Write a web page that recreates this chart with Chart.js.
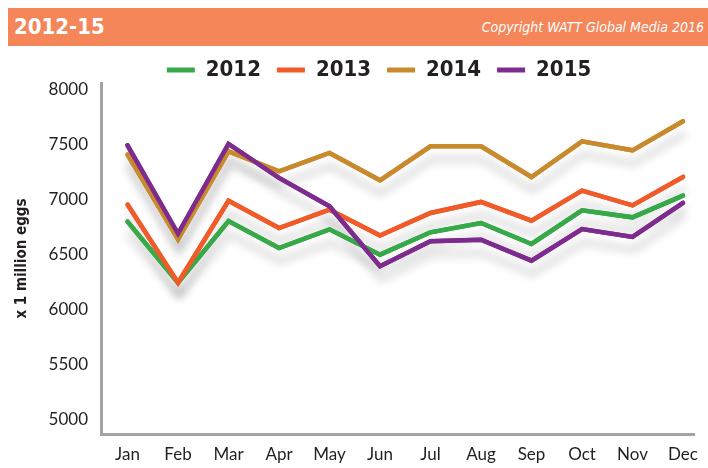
<!DOCTYPE html>
<html><head><meta charset="utf-8">
<script src="https://cdn.jsdelivr.net/npm/chart.js@4"></script>
<style>
html,body{margin:0;padding:0;background:#fff;width:708px;height:468px;overflow:hidden}
#wrap{position:relative;width:708px;height:468px}
#hdr{position:absolute;left:8px;top:8px;width:700px;height:38px;background:#F4865A}
#ttl{position:absolute;left:6px;top:6px;display:block;line-height:26px;font:bold 22px "DejaVu Sans Condensed","DejaVu Sans",sans-serif;color:#fff}
#copy{position:absolute;right:4px;top:11px;display:block;line-height:18px;font:italic 14px "DejaVu Sans Condensed","DejaVu Sans",sans-serif;color:#fff}
canvas{position:absolute;left:0;top:0}
</style></head>
<body><div id="wrap"><canvas id="c" width="708" height="468"></canvas><div id="hdr"><span id="ttl">2012-15</span><span id="copy">Copyright WATT Global Media 2016</span></div></div>
<script>
const months = ['Jan','Feb','Mar','Apr','May','Jun','Jul','Aug','Sep','Oct','Nov','Dec'];
const years = ['2012','2013','2014','2015'];
const v2012 = [6800,6245,6805,6560,6730,6500,6703,6788,6597,6903,6839,7036];
const v2013 = [6955,6245,6990,6742,6909,6673,6879,6979,6809,7082,6948,7206];
const v2014 = [7409,6640,7439,7258,7424,7176,7485,7485,7206,7530,7448,7712];
const v2015 = [7494,6690,7506,7197,6939,6394,6621,6636,6445,6733,6661,6970];
const yTicks = [5000,5500,6000,6500,7000,7500,8000];
const colors = ['#37A948','#F15A29','#C98A2E','#7D2C8E'];

const series = [v2012, v2013, v2014, v2015];
const datasets = series.map((vals, k) => ({
  label: years[k],
  data: vals.map((v, i) => ({x: i, y: v})),
  borderColor: colors[k],
  backgroundColor: colors[k],
  borderWidth: 4.5,
  pointRadius: 0,
  tension: 0,
  borderCapStyle: 'round',
  borderJoinStyle: 'miter',
  order: 4 - k
}));

const shadowPlugin = {
  id: 'shadow',
  afterLayout(chart) {
    const lg = chart.legend;
    lg.left += 26; lg.right += 26;
    lg.top += 8; lg.bottom += 8;
  },
  beforeDatasetsDraw(chart) {
    const ctx = chart.ctx;
    ctx.save();
    ctx.shadowColor = 'rgba(0,0,0,0.2)';
    ctx.shadowBlur = 10;
    ctx.shadowOffsetX = 1;
    ctx.shadowOffsetY = 13;
    const metas = chart.getSortedVisibleDatasetMetas();
    for (let i = metas.length - 1; i >= 0; i--) {
      metas[i].dataset.draw(ctx, chart.chartArea);
    }
    ctx.restore();
  }
};

const condFont = '"DejaVu Sans Condensed","DejaVu Sans",sans-serif';
new Chart(document.getElementById('c'), {
  type: 'line',
  data: {datasets},
  plugins: [shadowPlugin],
  options: {
    responsive: false,
    animation: false,
    layout: {padding: {top: 35, right: 2, left: 0, bottom: 0}},
    plugins: {
      tooltip: {enabled: false},
      legend: {
        position: 'top',
        labels: {
          font: {family: condFont, size: 22, weight: 'bold'},
          color: '#231F20',
          boxWidth: 28,
          boxHeight: 5,
          padding: 16,
          useBorderRadius: true,
          borderRadius: 2.5,
          generateLabels: (chart) => chart.data.datasets.map((d, i) => ({
            text: d.label, fillStyle: d.borderColor, strokeStyle: d.borderColor,
            lineWidth: 0, hidden: false, datasetIndex: i, fontColor: '#231F20'
          }))
        }
      }
    },
    scales: {
      x: {
        type: 'linear',
        min: -0.525, max: 11.232,
        afterBuildTicks: (s) => { s.ticks = months.map((m, i) => ({value: i})); },
        afterFit: (s) => { s.height = 34; },
        grid: {display: false, drawTicks: false},
        border: {display: true, color: '#A3A3A3', width: 3},
        ticks: {
          autoSkip: false, maxRotation: 0, padding: 10,
          callback: (v) => months[v],
          font: {family: 'Lato, "Open Sans", sans-serif', size: 17},
          color: '#231F20'
        }
      },
      y: {
        min: 4870, max: 8060,
        afterBuildTicks: (s) => { s.ticks = yTicks.map(v => ({value: v})); },
        afterFit: (s) => { s.width = 101; },
        grid: {display: false, drawTicks: false},
        border: {display: true, color: '#A3A3A3', width: 3},
        title: {
          display: true, text: 'x 1 million eggs',
          font: {family: condFont, size: 15, weight: 'bold'},
          color: '#231F20', padding: {top: 13, bottom: 0}
        },
        ticks: {
          padding: 13,
          callback: (v) => String(v),
          font: {family: 'Lato, "Open Sans", sans-serif', size: 17},
          color: '#231F20'
        }
      }
    }
  }
});
</script>
</body></html>
